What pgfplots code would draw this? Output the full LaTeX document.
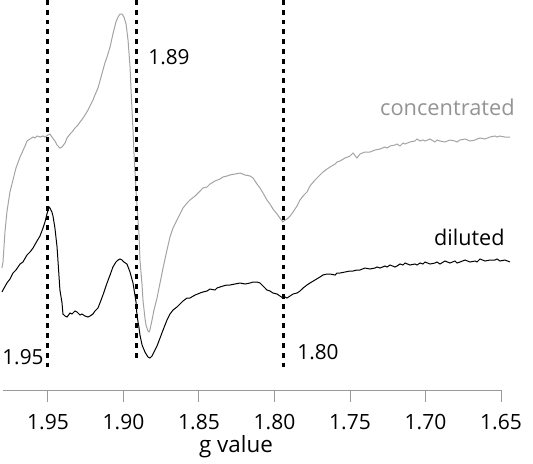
\documentclass[border=0pt]{standalone}
\usepackage{fontspec}
\setmainfont{Open Sans}
\usepackage{pgfplots}
\usepackage{pgfplotstable}
\pgfplotsset{compat=1.18}

\definecolor{conc}{gray}{0.64}
\definecolor{conctext}{gray}{0.58}
\definecolor{axgray}{gray}{0.6}

% g value, signal (arbitrary units)
\pgfplotstableread{
g I
1.9805 195
1.9798 201
1.9785 231
1.9772 251
1.9752 271
1.9732 283
1.9712 295
1.9685 306
1.9652 317
1.9639 322
1.9619 324
1.9599 326
1.9586 325
1.9573 327
1.9553 326
1.9533 327
1.9520 326
1.9500 328
1.9487 329
1.9474 326
1.9454 322
1.9440 318
1.9421 315
1.9407 316
1.9387 320
1.9374 325
1.9354 329
1.9341 331
1.9321 335
1.9301 338
1.9288 341
1.9268 345
1.9255 348
1.9235 353
1.9222 357
1.9202 363
1.9189 368
1.9169 375
1.9156 382
1.9136 393
1.9123 400
1.9109 406
1.9089 416
1.9070 429
1.9050 441
1.9036 446
1.9023 449
1.9010 449
1.8997 446
1.8983 439
1.8970 423
1.8957 397
1.8950 373
1.8937 333
1.8930 308
1.8917 273
1.8911 258
1.8897 228
1.8891 203
1.8877 178
1.8871 163
1.8858 145
1.8851 138
1.8838 132
1.8831 131
1.8825 133
1.8811 143
1.8798 153
1.8778 165
1.8758 180
1.8738 195
1.8712 213
1.8692 226
1.8672 235
1.8646 243
1.8626 249
1.8606 255
1.8579 260
1.8560 263
1.8526 267
1.8493 272
1.8474 275
1.8447 276
1.8427 279
1.8394 282
1.8361 284
1.8341 286
1.8315 287
1.8295 288
1.8262 289
1.8228 290
1.8195 288
1.8162 287
1.8142 285
1.8116 279
1.8096 275
1.8076 270
1.8050 263
1.8030 259
1.8010 254
1.7983 249
1.7964 245
1.7944 241
1.7930 243
1.7917 244
1.7897 247
1.7877 251
1.7851 257
1.7831 263
1.7811 267
1.7785 271
1.7765 277
1.7732 283
1.7699 288
1.7679 291
1.7652 294
1.7632 296
1.7599 299
1.7586 301
1.7566 302
1.7533 305
1.7500 307
1.7480 310
1.7454 305
1.7434 309
1.7401 311
1.7368 311
1.7334 313
1.7301 314
1.7268 316
1.7255 315
1.7235 317
1.7202 318
1.7189 319
1.7169 317
1.7149 320
1.7136 319
1.7103 321
1.7070 322
1.7056 324
1.7036 322
1.7017 323
1.7003 322
1.6970 324
1.6937 321
1.6924 323
1.6904 322
1.6871 321
1.6838 323
1.6805 322
1.6791 321
1.6772 323
1.6738 324
1.6705 322
1.6672 323
1.6659 324
1.6639 325
1.6606 324
1.6573 326
1.6540 327
1.6526 326
1.6507 327
1.6474 326
1.6440 326
}\concentrated

\pgfplotstableread{
g I
1.9805 171
1.9798 173
1.9772 180
1.9752 184
1.9732 190
1.9712 193
1.9685 199
1.9666 201
1.9639 208
1.9619 211
1.9599 215
1.9573 222
1.9553 227
1.9533 235
1.9520 241
1.9507 249
1.9493 256
1.9487 255
1.9474 251
1.9467 247
1.9454 235
1.9440 216
1.9421 173
1.9407 160
1.9401 149
1.9387 147
1.9374 146
1.9354 150
1.9341 149
1.9321 152
1.9308 151
1.9288 148
1.9275 149
1.9255 147
1.9235 146
1.9222 147
1.9202 149
1.9189 152
1.9169 155
1.9156 160
1.9136 168
1.9109 180
1.9089 188
1.9070 196
1.9050 201
1.9036 203
1.9023 204
1.9010 203
1.8997 201
1.8977 199
1.8957 191
1.8937 180
1.8917 161
1.8911 148
1.8897 135
1.8891 128
1.8877 118
1.8858 111
1.8838 106
1.8825 105
1.8811 107
1.8798 111
1.8778 117
1.8758 125
1.8738 133
1.8712 143
1.8692 149
1.8672 153
1.8646 156
1.8626 159
1.8606 162
1.8579 165
1.8560 165
1.8526 168
1.8493 170
1.8474 171
1.8447 172
1.8427 174
1.8394 173
1.8381 175
1.8361 176
1.8341 177
1.8315 178
1.8295 178
1.8262 179
1.8228 180
1.8195 179
1.8162 180
1.8142 181
1.8116 181
1.8096 180
1.8076 177
1.8050 173
1.8030 172
1.8010 170
1.7983 169
1.7964 167
1.7944 165
1.7930 166
1.7917 165
1.7897 167
1.7877 169
1.7851 170
1.7831 172
1.7811 175
1.7785 178
1.7765 180
1.7732 183
1.7699 186
1.7679 188
1.7652 189
1.7632 189
1.7599 188
1.7586 190
1.7566 190
1.7533 191
1.7500 192
1.7480 192
1.7454 193
1.7434 193
1.7401 195
1.7368 194
1.7334 195
1.7321 196
1.7301 195
1.7268 197
1.7255 196
1.7235 198
1.7202 196
1.7189 197
1.7169 199
1.7149 198
1.7136 200
1.7103 198
1.7070 199
1.7056 198
1.7036 200
1.7017 199
1.7003 201
1.6970 199
1.6937 200
1.6924 201
1.6904 199
1.6871 202
1.6838 200
1.6805 202
1.6791 200
1.6772 201
1.6738 203
1.6705 201
1.6672 202
1.6659 201
1.6639 204
1.6606 202
1.6573 203
1.6540 203
1.6526 204
1.6507 202
1.6474 203
1.6440 201
}\diluted

\begin{document}
\begin{tikzpicture}[font=\fontsize{10.4}{13}\selectfont]
\begin{axis}[
    scale only axis, width=249pt, height=195pt,
    x dir=reverse, xmin=1.65, xmax=1.9798, ymin=73, ymax=463,
    clip=false,
    axis y line=none, axis x line*=bottom,
    x axis line style={-, axgray, line width=0.5pt},
    xtick={1.65,1.70,1.75,1.80,1.85,1.90,1.95},
    xticklabels={1.65,1.70,1.75,1.80,1.85,1.90,1.95},
    xtick pos=bottom, tick align=outside, major tick length=6pt,
    tick style={axgray, line width=0.5pt},
    xticklabel style={font=\fontsize{10.5}{12}\selectfont, anchor=center, yshift=-10pt},
]
    \addplot[conc, line width=0.5pt] table[x=g, y=I] {\concentrated};
    \addplot[black, line width=0.5pt] table[x=g, y=I] {\diluted};
    \addplot[black, line width=1.5pt, dash pattern=on 2.4pt off 2.5pt] coordinates {(1.95,463) (1.95,93)};
    \addplot[black, line width=1.5pt, dash pattern=on 2.4pt off 2.5pt] coordinates {(1.8917,463) (1.8917,103)};
    \addplot[black, line width=1.5pt, dash pattern=on 2.4pt off 2.5pt] coordinates {(1.7942,463) (1.7942,95)};
    \node[anchor=west, inner sep=0pt] at (axis cs:1.8838,406) {1.89};
    \node[anchor=west, inner sep=0pt] at (axis cs:1.9805,106) {1.95};
    \node[anchor=west, inner sep=0pt] at (axis cs:1.7851,111) {1.80};
    \node[anchor=east, inner sep=0pt, text=conctext, font=\fontsize{10.9}{13}\selectfont] at (axis cs:1.6407,356) {concentrated};
    \node[anchor=east, inner sep=0pt, font=\fontsize{10.8}{13}\selectfont] at (axis cs:1.6474,226) {diluted};
    \node[anchor=base, inner sep=0pt, font=\fontsize{11.2}{13}\selectfont] at (axis cs:1.8255,11) {g value};
\end{axis}
\pgfresetboundingbox
\path[use as bounding box] ([shift={(-1.5pt,-36.5pt)}]current axis.south west) rectangle ([shift={(265pt,195pt)}]current axis.south west);
\end{tikzpicture}
\end{document}
